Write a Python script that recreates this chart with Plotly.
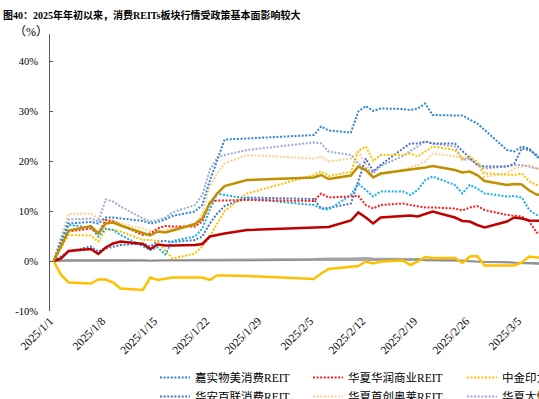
import pandas as pd
import plotly.graph_objects as go

# ---------------- data ----------------
dates = ["2025-01-01", "2025-01-02", "2025-01-03", "2025-01-06", "2025-01-07", "2025-01-08",
         "2025-01-09", "2025-01-10", "2025-01-13", "2025-01-14", "2025-01-15", "2025-01-16",
         "2025-01-17", "2025-01-20", "2025-01-21", "2025-01-22", "2025-01-23", "2025-01-24",
         "2025-01-27", "2025-02-05", "2025-02-06", "2025-02-07", "2025-02-10", "2025-02-11",
         "2025-02-12", "2025-02-13", "2025-02-14", "2025-02-17", "2025-02-18", "2025-02-19",
         "2025-02-20", "2025-02-21", "2025-02-24", "2025-02-25", "2025-02-26", "2025-02-27",
         "2025-02-28", "2025-03-03", "2025-03-04", "2025-03-05", "2025-03-06", "2025-03-07",
         "2025-03-10"]

tick_dates = ["2025-01-01", "2025-01-08", "2025-01-15", "2025-01-22", "2025-01-29",
              "2025-02-05", "2025-02-12", "2025-02-19", "2025-02-26", "2025-03-05"]
tick_labels = ["2025/1/1", "2025/1/8", "2025/1/15", "2025/1/22", "2025/1/29",
               "2025/2/5", "2025/2/12", "2025/2/19", "2025/2/26", "2025/3/5"]

y_ticks = [-10, 0, 10, 20, 30, 40]
y_tick_labels = ["-10%", "0%", "10%", "20%", "30%", "40%"]

jiashi_wumei = [0, 4.0, 7.5, 7.8, 7.5, 8.7, 8.7, 8.5, 8.0, 7.5, 7.8, 8.3, 9.0, 9.9, 11.2, 16.0,
                20.2, 24.3, 24.5, 25.2, 26.9, 26.1, 25.7, 29.9, 31.0, 30.0, 30.5, 30.4, 30.2,
                30.5, 31.5, 29.2, 29.1, 29.1, 28.3, 27.5, 26.2, 22.2, 21.9, 22.9, 22.5, 20.9, 17.5]
huaxia_huarun = [0, 3.0, 5.9, 6.5, 5.5, 8.2, 7.9, 7.2, 5.2, 5.5, 6.5, 7.0, 6.9, 6.9, 7.9, 11.7,
                 12.1, 12.1, 12.2, 12.0, 13.5, 12.7, 13.0, 13.0, 11.2, 10.5, 11.2, 11.5, 11.2,
                 11.0, 10.7, 10.7, 10.5, 10.1, 10.7, 11.0, 10.2, 9.2, 9.0, 8.9, 7.9, 5.7, 5.3]
zhongjin_yinli = [0, 2.5, 5.2, 5.1, 3.9, 6.3, 6.2, 5.9, 4.2, 4.2, 4.0, 2.0, 0.5, 1.5, 2.9, 4.9,
                  7.5, 10.0, 13.5, 17.2, 17.9, 17.0, 17.8, 22.0, 22.9, 20.0, 21.2, 21.2, 21.5,
                  20.9, 21.9, 22.9, 22.2, 20.5, 20.9, 19.9, 17.5, 17.2, 17.2, 17.5, 15.9, 15.2, 14.8]
huaan_bailian = [0, 1.0, 1.9, 2.9, 1.9, 2.5, 2.9, 3.2, 3.5, 2.9, 3.9, 4.0, 3.8, 4.2, 4.9, 7.5,
                 9.5, 11.0, 12.7, 12.4, 10.5, 10.6, 11.5, 15.9, 20.5, 17.9, 19.2, 22.5, 23.5,
                 23.5, 23.9, 23.5, 23.5, 22.0, 20.5, 19.2, 18.9, 18.9, 19.5, 22.5, 22.2, 21.2, 18.5]
huaxia_shouchuang = [0, 5.0, 9.4, 9.5, 8.5, 8.0, 8.2, 7.5, 6.5, 6.0, 5.8, 6.2, 6.5, 7.2, 9.5,
                     14.9, 17.5, 19.5, 21.2, 20.5, 20.9, 19.9, 20.5, 21.9, 19.5, 16.9, 17.2,
                     18.2, 18.7, 19.2, 19.9, 21.5, 20.9, 20.5, 20.2, 19.5, 16.8, 17.5, 18.5,
                     18.9, 19.2, 18.5, 18.2]
huaxia_dayuecheng = [0, 4.5, 8.3, 8.5, 7.9, 12.3, 11.9, 10.9, 8.5, 7.9, 8.2, 8.7, 9.7, 11.2,
                     13.2, 18.2, 20.7, 21.2, 22.2, 23.7, 23.5, 21.9, 21.2, 19.5, 18.5, 17.5,
                     19.0, 21.0, 22.0, 23.0, 23.9, 23.5, 22.9, 20.2, 20.5, 19.2, 18.5, 18.9,
                     19.2, 19.2, 18.9, 18.5, 18.2]
cyan_series = [0, 3.5, 7.2, 6.7, 4.9, 6.5, 6.2, 5.2, 2.9, 2.2, 2.7, 1.3, 4.0, 4.9, 6.5, 10.2,
               13.5, 13.2, 12.5, 11.2, 10.5, 10.3, 13.2, 15.5, 14.2, 12.9, 13.9, 13.9, 13.2,
               14.2, 16.2, 16.9, 15.2, 13.5, 15.2, 14.5, 13.5, 12.9, 13.0, 12.7, 10.2, 9.2, 8.8]
darkred_series = [0, 0.5, 2.0, 2.4, 1.4, 2.7, 3.5, 3.9, 3.4, 2.4, 3.3, 3.1, 3.1, 3.2, 3.4, 4.9,
                  5.2, 5.5, 6.2, 6.7, 6.8, 6.8, 8.1, 9.7, 8.7, 7.5, 8.7, 9.0, 9.1, 8.9, 9.4,
                  9.9, 8.7, 8.0, 7.9, 7.2, 6.7, 7.9, 8.7, 8.5, 8.1, 8.1, 7.9]
gold_series = [0, 3.0, 6.1, 7.0, 5.5, 7.5, 7.7, 7.1, 5.6, 5.1, 5.9, 5.7, 6.1, 7.4, 8.5, 11.5,
               13.5, 15.0, 16.2, 16.7, 17.2, 16.4, 17.1, 18.9, 18.2, 16.7, 17.5, 18.1, 18.2,
               18.4, 18.7, 19.0, 18.2, 17.7, 17.9, 17.2, 16.0, 15.2, 15.4, 15.3, 14.1, 13.3, 12.8]
yellow_series = [0, -2.8, -4.3, -4.5, -3.7, -3.7, -4.3, -5.5, -5.8, -3.3, -3.8, -3.5, -3.3,
                 -3.3, -3.3, -3.8, -2.9, -2.9, -3.0, -3.6, -2.5, -1.6, -1.2, -1.0, -0.1, -0.5,
                 -0.1, 0.1, -0.8, -0.1, 0.8, 0.6, 0.6, -0.4, 0.9, 1.0, -0.9, -1.0, -0.9, -0.3,
                 0.9, 0.7, 0.6]
gray_light = [0, 0.1, 0.2, 0.2, 0.2, 0.3, 0.3, 0.2, 0.2, 0.1, 0.2, 0.2, 0.2, 0.2, 0.2, 0.3,
              0.3, 0.3, 0.3, 0.4, 0.5, 0.5, 0.5, 0.6, 0.6, 0.5, 0.5, 0.5, 0.4, 0.4, 0.3, 0.3,
              0.2, 0.1, 0.0, -0.1, -0.2, -0.3, -0.4, -0.4, -0.5, -0.6, -0.8]
gray_dark = [0, 0.0, 0.1, 0.1, 0.1, 0.1, 0.1, 0.1, 0.1, 0.0, 0.1, 0.1, 0.1, 0.1, 0.1, 0.1,
             0.1, 0.1, 0.1, 0.2, 0.2, 0.2, 0.2, 0.3, 0.3, 0.2, 0.2, 0.2, 0.2, 0.2, 0.1, 0.1,
             0.0, 0.0, -0.1, -0.1, -0.2, -0.2, -0.3, -0.3, -0.3, -0.4, -0.5]

# ---------------- figure ----------------
W, H = 539, 399
ML, MR, MT, MB = 50, 0, 34, 88
PW, PH = W - ML - MR, H - MT - MB
Y_MIN, Y_MAX = -10, 45.4

# Excel "between tick marks": each daily point sits in the middle of its day slot
x = pd.to_datetime(dates) + pd.Timedelta(hours=12)
x_start = pd.Timestamp("2025-01-01")
px_per_day = 7.43
x_end = x_start + pd.Timedelta(days=PW / px_per_day)

def px_x(p):
    return (p - ML) / PW

def px_y(p):
    return (H - MB - p) / PH

SERIF = "Times New Roman, Liberation Serif, Noto Sans CJK SC"
DOT = "2px,1.6px"

fig = go.Figure()

dotted = [
    ("华夏首创奥莱REIT", huaxia_shouchuang, "#FFD08C", "legend2"),
    ("华夏大悦城商业REIT", huaxia_dayuecheng, "#9FA9DD", "legend3"),
    ("华安百联消费REIT", huaan_bailian, "#4A74C4", "legend"),
    ("中金印力消费REIT", zhongjin_yinli, "#FFC000", "legend3"),
    ("华夏金茂商业REIT", cyan_series, "#1AAFEF", None),
    ("华夏华润商业REIT", huaxia_huarun, "#FF1A1A", "legend2"),
    ("嘉实物美消费REIT", jiashi_wumei, "#2F86D4", "legend"),
]
legend_rank = {"嘉实物美消费REIT": 0, "华夏华润商业REIT": 0, "中金印力消费REIT": 0,
               "华安百联消费REIT": 1, "华夏首创奥莱REIT": 1, "华夏大悦城商业REIT": 1}
for name, vals, col, lg in dotted:
    fig.add_trace(go.Scatter(
        x=x, y=vals, name=name, mode="lines",
        line=dict(color=col, width=2, dash=DOT),
        showlegend=lg is not None,
        legend=lg if lg else "legend",
        legendrank=legend_rank.get(name, 1000),
    ))

solid = [
    ("中证REITs指数", gray_light, "#A6A6A6", 2),
    ("中证REITs全收益指数", gray_dark, "#8C8C8C", 1.5),
    ("沪深300", yellow_series, "#FFC000", 2.5),
    ("消费REITs平均", darkred_series, "#C00000", 2.5),
    ("消费REITs指数", gold_series, "#BF9000", 2.5),
]
for name, vals, col, w in solid:
    fig.add_trace(go.Scatter(
        x=x, y=vals, name=name, mode="lines",
        line=dict(color=col, width=w),
        showlegend=False,
    ))

legend_common = dict(
    orientation="v", xanchor="left", yanchor="top",
    bgcolor="rgba(0,0,0,0)", borderwidth=0,
    font=dict(family=SERIF, size=11.5, color="#000000"),
    tracegroupgap=0, itemwidth=30,
)
leg_y = px_y(363)

fig.update_layout(
    width=W, height=H,
    margin=dict(l=ML, r=MR, t=MT, b=MB, autoexpand=False),
    paper_bgcolor="white", plot_bgcolor="white",
    font=dict(family=SERIF, size=10, color="#000000"),
    title=dict(
        text="图40：2025年年初以来，消费REITs板块行情受政策基本面影响较大",
        xref="container", yref="container",
        x=3 / W, xanchor="left", y=1 - 15 / H, yanchor="middle",
        font=dict(family=SERIF, size=10, color="#000000", weight="bold"),
    ),
    xaxis=dict(
        type="date", range=[x_start, x_end],
        tickvals=pd.to_datetime(tick_dates), ticktext=tick_labels,
        tickangle=-45, ticks="", showline=False, showgrid=False, zeroline=False,
        tickfont=dict(family=SERIF, size=11.5, color="#000000"),
    ),
    xaxis2=dict(
        type="date", range=[x_start, x_end], overlaying="x", anchor="free",
        position=(0 - Y_MIN) / (Y_MAX - Y_MIN),
        tickvals=pd.to_datetime(tick_dates), showticklabels=False,
        ticks="inside", ticklen=3, tickcolor="#595959", tickwidth=1,
        showline=True, linecolor="#808080", linewidth=1.5,
        showgrid=False, zeroline=False,
    ),
    yaxis=dict(
        range=[Y_MIN, Y_MAX], tickvals=y_ticks, ticktext=y_tick_labels,
        ticks="inside", ticklen=3, tickcolor="#595959",
        showline=True, linecolor="#595959", linewidth=1,
        showgrid=False, zeroline=False, ticklabelstandoff=9,
        tickfont=dict(family=SERIF, size=10.5, color="#000000"),
    ),
    legend=dict(x=px_x(155), y=leg_y, **legend_common),
    legend2=dict(x=px_x(308), y=leg_y, **legend_common),
    legend3=dict(x=px_x(462), y=leg_y, **legend_common),
    annotations=[dict(
        text="（%）", xref="paper", yref="paper",
        x=px_x(12), y=px_y(32), xanchor="left", yanchor="middle",
        showarrow=False, font=dict(family=SERIF, size=12, color="#000000"),
    )],
)

fig.write_html(
    "out.html",
    config={"displayModeBar": False},
    post_script="document.body.style.margin='0px';document.body.style.overflow='hidden';",
)
